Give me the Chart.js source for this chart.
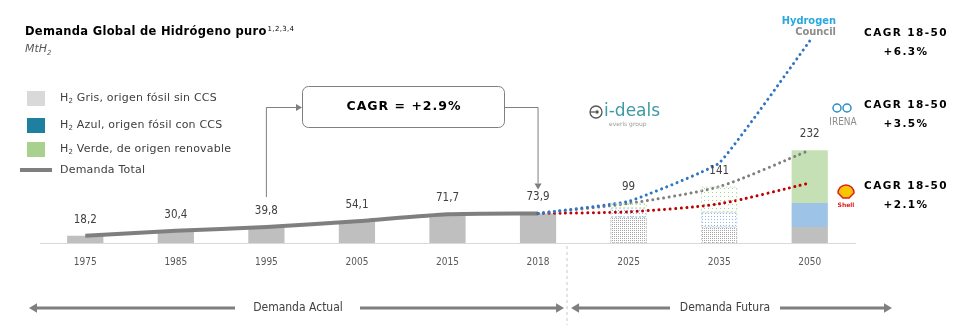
<!DOCTYPE html>
<html>
<head>
<meta charset="utf-8">
<script src="https://cdn.jsdelivr.net/npm/chart.js@4.4.1/dist/chart.umd.min.js"></script>
<style>
  html, body { margin: 0; background: #fff; }
  #wrap { width: 968px; height: 333px; position: relative; }
</style>
</head>
<body>
<div id="wrap"><canvas id="chart"></canvas></div>
<script>
const years = ['1975', '1985', '1995', '2005', '2015', '2018', '2025', '2035', '2050'];
const totals = [18.2, 30.4, 39.8, 54.1, 71.7, 73.9, 99, 141, 232];
const totalLabels = ['18,2', '30,4', '39,8', '54,1', '71,7', '73,9', '99', '141', '232'];
const grisValues = [18.2, 30.4, 39.8, 54.1, 71.7, 73.9, 65, 40, 40];
const azulValues = [0, 0, 0, 0, 0, 0, 22, 37, 60];
const verdeValues = [0, 0, 0, 0, 0, 0, 12, 64, 132];
const demandaTotal = [18.2, 30.4, 39.8, 54.1, 71.7, 73.9, null, null, null];
const hydrogenCouncil = [null, null, null, null, null, 73.9, 104, 200, 505];
const irena = [null, null, null, null, null, 73.9, 99, 141, 232];
const shell = [null, null, null, null, null, 73.9, 78, 98, 150];
const cagrScenarios = ['+6.3%', '+3.5%', '+2.1%'];
const legendItems = ['Gris, origen fósil sin CCS', 'Azul, origen fósil con CCS', 'Verde, de origen renovable'];

const canvas = document.getElementById('chart');
const ctx0 = canvas.getContext('2d');

// dotted texture for the projected bars
function dots(color, step) {
  const c = document.createElement('canvas');
  c.width = step; c.height = step;
  const g = c.getContext('2d');
  g.fillStyle = color;
  g.fillRect(0, 0, 1, 1);
  return ctx0.createPattern(c, 'repeat');
}

const grisFill = years.map((y, i) => i === 6 || i === 7 ? dots('#a6a6a6', 2) : '#bfbfbf');
const azulFill = years.map((y, i) => i === 6 || i === 7 ? dots('#8db8e3', 3) : '#9dc3e6');
const verdeFill = years.map((y, i) => i === 6 || i === 7 ? dots('#a9d18e', 4) : '#c5e0b4');

const FONT = "'DejaVu Sans', sans-serif";
const NARROW = "'Liberation Sans Narrow', 'DejaVu Sans Condensed', 'Liberation Sans', sans-serif";

function arrowHead(ctx, x, y, dir, size) {
  ctx.beginPath();
  if (dir === 'right') { ctx.moveTo(x, y); ctx.lineTo(x - size, y - size * 0.6); ctx.lineTo(x - size, y + size * 0.6); }
  if (dir === 'left') { ctx.moveTo(x, y); ctx.lineTo(x + size, y - size * 0.6); ctx.lineTo(x + size, y + size * 0.6); }
  if (dir === 'down') { ctx.moveTo(x, y); ctx.lineTo(x - size * 0.6, y - size); ctx.lineTo(x + size * 0.6, y - size); }
  ctx.closePath();
  ctx.fill();
}

function h2Text(ctx, x, y, rest, size) {
  ctx.font = size + 'px ' + FONT;
  ctx.fillText('H', x, y);
  const w = ctx.measureText('H').width;
  ctx.font = (size - 4) + 'px ' + FONT;
  ctx.fillText('2', x + w, y + 3);
  const w2 = ctx.measureText('2').width;
  ctx.font = size + 'px ' + FONT;
  ctx.fillText(' ' + rest, x + w + w2, y);
}

const decor = {
  id: 'decor',
  afterDatasetsDraw(chart) {
    const ctx = chart.ctx;
    const xs = chart.scales.x;
    const ys = chart.scales.y;
    const area = chart.chartArea;
    ctx.save();

    // dashed outlines around projected bars
    [0, 1, 2].forEach(d => {
      const meta = chart.getDatasetMeta(d);
      [6, 7].forEach(i => {
        const el = meta.data[i];
        if (!el || el.height === 0) return;
        const color = d === 0 ? '#d0d0d0' : d === 1 ? '#bdd7ee' : '#c5e0b4';
        ctx.strokeStyle = color;
        ctx.lineWidth = 1;
        ctx.setLineDash([2, 2]);
        ctx.strokeRect(el.x - el.width / 2 + 0.5, Math.min(el.y, el.base) + 0.5, el.width - 1, Math.abs(el.base - el.y) - 1);
      });
    });
    ctx.setLineDash([]);

    // value labels
    ctx.fillStyle = '#404040';
    ctx.font = '11.5px ' + NARROW;
    ctx.textAlign = 'center';
    ctx.textBaseline = 'middle';
    totals.forEach((v, i) => {
      ctx.fillText(totalLabels[i], xs.getPixelForValue(i), ys.getPixelForValue(v) - 16);
    });

    // title
    ctx.textAlign = 'left';
    ctx.textBaseline = 'alphabetic';
    ctx.fillStyle = '#000';
    ctx.letterSpacing = '0.3px';
    ctx.font = 'bold 11.5px ' + FONT;
    const title = 'Demanda Global de Hidrógeno puro';
    ctx.fillText(title, 25, 35);
    const tw = ctx.measureText(title).width;
    ctx.font = '7px ' + FONT;
    ctx.fillText('1,2,3,4', 25 + tw + 1, 31);
    ctx.letterSpacing = '0px';
    ctx.fillStyle = '#595959';
    ctx.font = 'italic 11px ' + FONT;
    ctx.fillText('MtH', 25, 52);
    const mw = ctx.measureText('MtH').width;
    ctx.font = 'italic 7px ' + FONT;
    ctx.fillText('2', 25 + mw, 55);

    // legend
    const sw = ['#d9d9d9', '#1f7f9f', '#a9d18e'];
    const ly = [98, 125, 149];
    ctx.letterSpacing = '0.2px';
    legendItems.forEach((t, i) => {
      ctx.fillStyle = sw[i];
      ctx.fillRect(27, ly[i] - 7, 18, 15);
      ctx.fillStyle = '#404040';
      ctx.textBaseline = 'middle';
      h2Text(ctx, 60, ly[i], t, 11);
    });
    ctx.strokeStyle = '#7f7f7f';
    ctx.lineWidth = 4;
    ctx.beginPath(); ctx.moveTo(20, 170); ctx.lineTo(52, 170); ctx.stroke();
    ctx.fillStyle = '#404040';
    ctx.font = '11px ' + FONT;
    ctx.fillText('Demanda Total', 60, 170);
    ctx.letterSpacing = '0px';

    // CAGR box with connectors
    const x1995 = xs.getPixelForValue(2);
    const x2018 = xs.getPixelForValue(5);
    ctx.strokeStyle = '#7f7f7f';
    ctx.fillStyle = '#7f7f7f';
    ctx.lineWidth = 1;
    ctx.beginPath(); ctx.roundRect(302.5, 86.5, 202, 41, 6); ctx.stroke();
    ctx.beginPath();
    ctx.moveTo(x1995, ys.getPixelForValue(39.8) - 30);
    ctx.lineTo(x1995, 107.5); ctx.lineTo(296, 107.5);
    ctx.stroke();
    arrowHead(ctx, 302, 107.5, 'right', 6);
    ctx.beginPath();
    ctx.moveTo(504, 107.5); ctx.lineTo(x2018, 107.5);
    ctx.lineTo(x2018, ys.getPixelForValue(73.9) - 30);
    ctx.stroke();
    arrowHead(ctx, x2018, ys.getPixelForValue(73.9) - 24, 'down', 6);
    ctx.fillStyle = '#000';
    ctx.font = 'bold 12.5px ' + FONT;
    ctx.letterSpacing = '1px';
    ctx.textAlign = 'center';
    ctx.textBaseline = 'middle';
    ctx.fillText('CAGR = +2.9%', 404, 107);

    // scenario CAGR labels
    const cy = [33, 105, 186];
    ctx.font = 'bold 10.5px ' + FONT;
    ctx.letterSpacing = '1.4px';
    cagrScenarios.forEach((t, i) => {
      ctx.fillText('CAGR 18-50', 906, cy[i]);
      ctx.fillText(t, 906, cy[i] + 19);
    });
    ctx.letterSpacing = '0px';

    // source marks
    ctx.textAlign = 'right';
    ctx.font = 'bold 11px ' + NARROW;
    ctx.fillStyle = '#29a8e0';
    ctx.fillText('Hydrogen', 836, 21);
    ctx.fillStyle = '#8c8c8c';
    ctx.fillText('Council', 836, 32);

    ctx.textAlign = 'left';
    ctx.strokeStyle = '#555';
    ctx.lineWidth = 1.3;
    ctx.beginPath(); ctx.arc(596, 112, 6, 0, Math.PI * 2); ctx.stroke();
    ctx.fillStyle = '#555';
    ctx.beginPath(); ctx.arc(597, 112, 1.8, 0, Math.PI * 2); ctx.fill();
    ctx.beginPath(); ctx.moveTo(590, 112); ctx.lineTo(595, 112); ctx.stroke();
    ctx.fillStyle = '#3c9aa5';
    ctx.font = '17px ' + FONT;
    ctx.fillText('i-deals', 604, 112);
    ctx.fillStyle = '#999';
    ctx.font = '6px ' + FONT;
    ctx.fillText('everis group', 609, 124);

    ctx.strokeStyle = '#2a8fc8';
    ctx.lineWidth = 1.5;
    ctx.beginPath(); ctx.arc(837, 108, 4, 0, Math.PI * 2); ctx.stroke();
    ctx.beginPath(); ctx.arc(847, 108, 4, 0, Math.PI * 2); ctx.stroke();
    ctx.fillStyle = '#8c8c8c';
    ctx.font = '10px ' + NARROW;
    ctx.textAlign = 'center';
    ctx.fillText('IRENA', 843, 122);

    ctx.fillStyle = '#f7c600';
    ctx.strokeStyle = '#dd1d21';
    ctx.lineWidth = 1.5;
    ctx.beginPath(); ctx.arc(846, 193, 8, Math.PI, 0); ctx.lineTo(849, 198); ctx.lineTo(843, 198); ctx.closePath();
    ctx.fill(); ctx.stroke();
    ctx.fillStyle = '#dd1d21';
    ctx.font = 'bold 6px ' + FONT;
    ctx.fillText('Shell', 846, 205);

    // separator and period arrows
    const xSep = x2018 + (xs.getPixelForValue(6) - x2018) * 0.32;
    ctx.strokeStyle = '#c8c8c8';
    ctx.lineWidth = 1;
    ctx.setLineDash([3, 3]);
    ctx.beginPath(); ctx.moveTo(xSep, area.bottom + 3); ctx.lineTo(xSep, 325); ctx.stroke();
    ctx.setLineDash([]);

    const ay = 308;
    ctx.strokeStyle = '#7f7f7f';
    ctx.fillStyle = '#7f7f7f';
    ctx.lineWidth = 3;
    const segs = [[36, 235], [360, xSep - 8], [xSep + 10, 670], [780, 885]];
    segs.forEach(s => { ctx.beginPath(); ctx.moveTo(s[0], ay); ctx.lineTo(s[1], ay); ctx.stroke(); });
    arrowHead(ctx, 29, ay, 'left', 8);
    arrowHead(ctx, xSep - 3, ay, 'right', 8);
    arrowHead(ctx, xSep + 4, ay, 'left', 8);
    arrowHead(ctx, 892, ay, 'right', 8);
    ctx.fillStyle = '#404040';
    ctx.font = '12px ' + NARROW;
    ctx.textBaseline = 'middle';
    ctx.fillText('Demanda Actual', 298, ay);
    ctx.fillText('Demanda Futura', 725, ay);

    ctx.restore();
  }
};

const dotted = (color, tension) => ({
  borderColor: color,
  borderWidth: 3,
  borderDash: [0.01, 5.5],
  borderCapStyle: 'round',
  pointRadius: 0,
  tension: tension,
  fill: false,
  yAxisID: 'yl',
  order: 0
});

new Chart(canvas, {
  type: 'bar',
  data: {
    labels: years,
    datasets: [
      { label: 'H2 Gris', data: grisValues, backgroundColor: grisFill, order: 2 },
      { label: 'H2 Azul', data: azulValues, backgroundColor: azulFill, order: 2 },
      { label: 'H2 Verde', data: verdeValues, backgroundColor: verdeFill, order: 2 },
      { type: 'line', label: 'Demanda Total', data: demandaTotal, borderColor: '#7f7f7f', borderWidth: 4,
        pointRadius: 0, tension: 0.2, yAxisID: 'yl', order: 1 },
      Object.assign({ type: 'line', label: 'Hydrogen Council', data: hydrogenCouncil }, dotted('#2e75c6', 0.1)),
      Object.assign({ type: 'line', label: 'IRENA', data: irena }, dotted('#7f7f7f', 0.25)),
      Object.assign({ type: 'line', label: 'Shell', data: shell }, dotted('#c00000', 0.25))
    ]
  },
  options: {
    responsive: true,
    maintainAspectRatio: false,
    animation: false,
    layout: { padding: { top: 23, left: 40, right: 113, bottom: 0 } },
    datasets: { bar: { categoryPercentage: 1, barPercentage: 0.4 } },
    plugins: { legend: { display: false }, tooltip: { enabled: false } },
    scales: {
      x: {
        stacked: true,
        grid: { display: false, drawTicks: false },
        border: { display: true, color: '#d9d9d9', width: 1 },
        ticks: { color: '#595959', padding: 13, font: { family: NARROW, size: 10 } },
        afterFit: s => { s.height = 90; }
      },
      y: { stacked: true, display: false, min: 0, max: 550 },
      yl: { display: false, min: 0, max: 550 }
    }
  },
  plugins: [decor]
});
</script>
</body>
</html>
